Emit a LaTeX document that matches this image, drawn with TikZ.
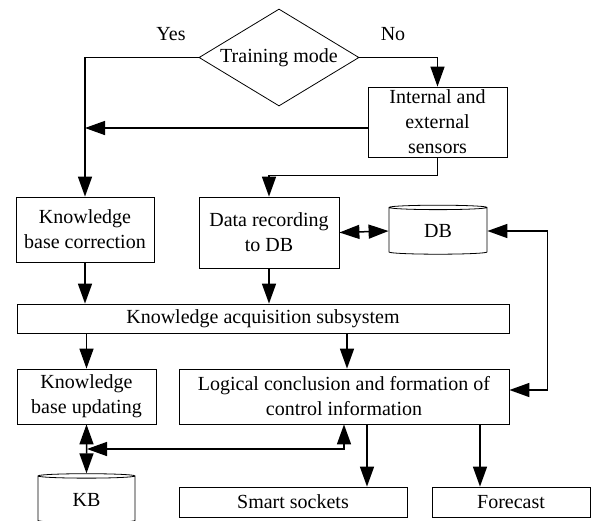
\documentclass[tikz,border=0pt]{standalone}
\usepackage{fontspec}
\setmainfont{Liberation Serif}
\usetikzlibrary{arrows.meta}
\usetikzlibrary{shapes.geometric}

\tikzset{
  blok/.style={rectangle, draw, line width=0.8pt, inner sep=0pt, align=center},
  baza/.style={cylinder, shape border rotate=90, draw, line width=0.8pt, inner sep=0pt, aspect=0.16},
  tok/.style={line width=1.5pt}
}

\begin{document}
\begin{tikzpicture}[x=1pt, y=-1pt, font=\fontsize{20}{25}\selectfont,
    >={Triangle[length=20pt,width=14pt]}]
        \clip (0,0) rectangle (591,520);

        \node[diamond, draw, line width=0.8pt, inner sep=-12pt, aspect=1.65, minimum width=160pt, minimum height=97pt] (rezim) at (279,57.5) {Training mode};
        \node (da) at (171,34) {Yes};
        \node (ne) at (393,34) {No};

        \node[blok, minimum width=139pt, minimum height=70pt] (senzori) at (437.5,122) {Internal and\\external\\sensors};
        \node[blok, minimum width=138pt, minimum height=65pt] (korekcija) at (85,229.5) {Knowledge\\base correction};
        \node[blok, minimum width=140pt, minimum height=71pt] (zapis) at (269,232.5) {Data recording\\to DB};
        \node[baza, minimum width=98pt, minimum height=49pt] (db) at (438,231) {DB};
        \node[blok, minimum width=492pt, minimum height=29pt] (akvizicija) at (263,318.5) {Knowledge acquisition subsystem};
        \node[blok, minimum width=139pt, minimum height=55pt] (azuriranje) at (86.5,396.5) {Knowledge\\base updating};
        \node[blok, minimum width=330pt, minimum height=55pt] (zakljucak) at (344,396.5) {Logical conclusion and formation of\\control information};
        \node[baza, minimum width=97pt, minimum height=49pt] (kb) at (86.5,499.5) {KB};
        \node[blok, minimum width=228pt, minimum height=30pt] (uticnice) at (293,502) {Smart sockets};
        \node[blok, minimum width=158pt, minimum height=30pt] (prognoza) at (511,502) {Forecast};

        \coordinate (spoj) at (87,449);

        \draw[tok, ->] (rezim.west) -| (korekcija.north);
        \draw[tok, ->] (rezim.east) -| (senzori.north);
        \draw[tok, ->] ([yshift=-6pt]senzori.west) -- ([yshift=-6pt]senzori.west -| korekcija.north);
        \draw[tok, ->] (senzori.south) -- ++(0,18) -| (zapis.north);
        \draw[tok, <->] (zapis.east) -- (db.west);
        \draw[tok, ->] (korekcija.south) -- (korekcija.south |- akvizicija.north);
        \draw[tok, ->] (zapis.south) -- (zapis.south |- akvizicija.north);
        \draw[tok, ->] (azuriranje.north |- akvizicija.south) -- (azuriranje.north);
        \draw[tok, ->] ([xshift=3pt]zakljucak.north |- akvizicija.south) -- ([xshift=3pt]zakljucak.north);
        \draw[tok, <->] ([yshift=6.5pt]zakljucak.east) -- ++(38,0) |- (db.east);
        \draw[tok, <->] (azuriranje.south) -- (kb.north);
        \draw[tok, <->] (zakljucak.south) |- (spoj);
        \draw[tok, ->] ([xshift=23pt]zakljucak.south) -- ([xshift=23pt]zakljucak.south |- uticnice.north);
        \draw[tok, ->] ([xshift=136pt]zakljucak.south) -- ([xshift=136pt]zakljucak.south |- prognoza.north);
    \end{tikzpicture}
\end{document}
